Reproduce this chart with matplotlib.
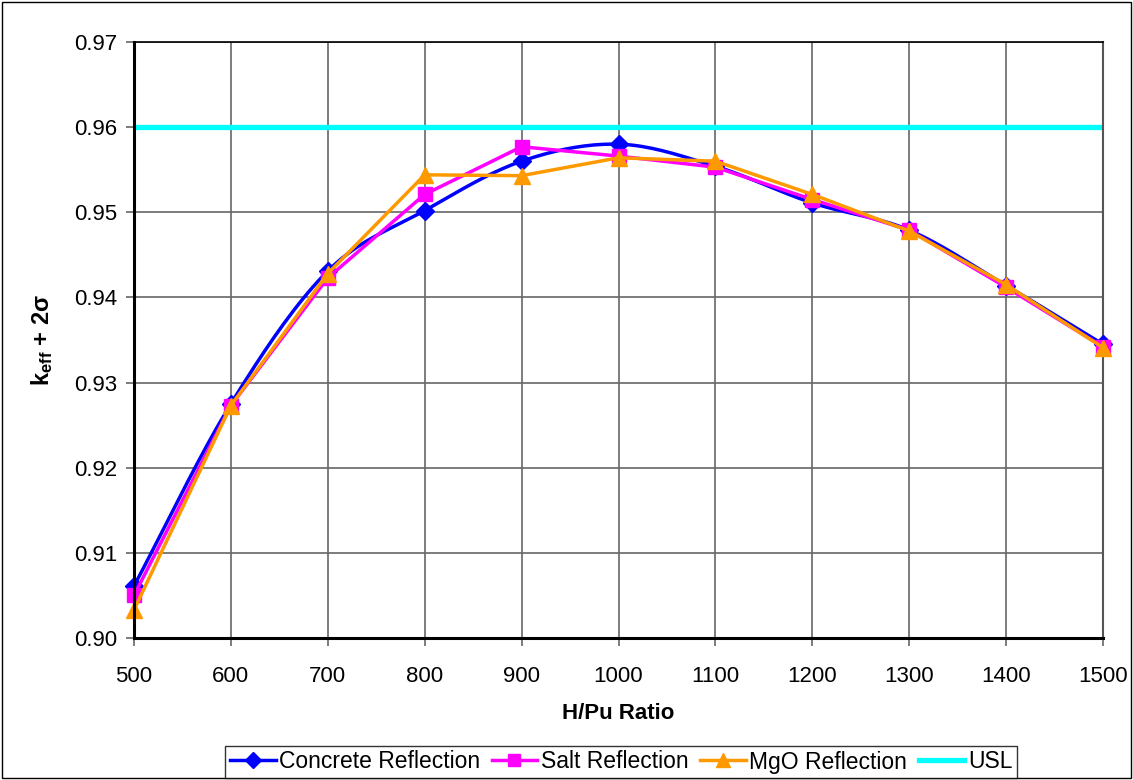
import numpy as np
import matplotlib
matplotlib.use("Agg")
import matplotlib.pyplot as plt
from matplotlib.lines import Line2D
from matplotlib.patches import Rectangle

plt.rcParams["font.family"] = ["Liberation Sans", "DejaVu Sans"]
plt.rcParams["mathtext.fontset"] = "custom"
plt.rcParams["mathtext.rm"] = "Liberation Sans"
plt.rcParams["mathtext.bf"] = "Liberation Sans:bold"

h_pu = [500, 600, 700, 800, 900, 1000, 1100, 1200, 1300, 1400, 1500]
concrete = [0.9061, 0.9275, 0.9431, 0.9502, 0.9560, 0.9580, 0.9554, 0.9511, 0.9479, 0.9414, 0.9345]
salt = [0.9050, 0.9273, 0.9423, 0.9521, 0.9577, 0.9566, 0.9553, 0.9515, 0.9479, 0.9412, 0.9342]
mgo = [0.9033, 0.9273, 0.9428, 0.9544, 0.9543, 0.9564, 0.9560, 0.9521, 0.9478, 0.9415, 0.9341]
usl = 0.96


def smooth(x, y, n=20):
    # Excel-style smoothed line (Catmull-Rom through the points)
    x = np.asarray(x, float)
    y = np.asarray(y, float)
    px = np.concatenate([[2 * x[0] - x[1]], x, [2 * x[-1] - x[-2]]])
    py = np.concatenate([[2 * y[0] - y[1]], y, [2 * y[-1] - y[-2]]])
    xs, ys = [], []
    t = np.linspace(0, 1, n, endpoint=False)
    for i in range(1, len(px) - 2):
        for p, out in ((px, xs), (py, ys)):
            p0, p1, p2, p3 = p[i - 1], p[i], p[i + 1], p[i + 2]
            out.extend(0.5 * (2 * p1 + (-p0 + p2) * t + (2 * p0 - 5 * p1 + 4 * p2 - p3) * t ** 2
                              + (-p0 + 3 * p1 - 3 * p2 + p3) * t ** 3))
    xs.append(x[-1])
    ys.append(y[-1])
    return xs, ys


fig = plt.figure(figsize=(11.33, 7.8), dpi=100)
ax = fig.add_axes([134 / 1133, 1 - 638 / 780, (1103 - 134) / 1133, (638 - 42) / 780])

lw = 2.5
sx, sy = smooth(h_pu, concrete)
ax.plot(sx, sy, color="#0000FF", lw=lw, zorder=3, clip_on=False)
ax.plot(h_pu, concrete, ls="none", marker="D", ms=9, color="#0000FF", zorder=3, clip_on=False)
ax.plot(h_pu, salt, color="#FF00FF", lw=lw, marker="s", ms=10, zorder=4, clip_on=False)
ax.plot(h_pu, mgo, color="#FF9900", lw=lw, marker="^", ms=11, zorder=5, clip_on=False)
ax.axhline(usl, color="#00FFFF", lw=3.8, zorder=2)

ax.set_xlim(500, 1500)
ax.set_ylim(0.90, 0.97)
ax.set_xticks(h_pu)
ax.set_yticks(np.arange(0.90, 0.9701, 0.01))
ax.yaxis.set_major_formatter(matplotlib.ticker.FormatStrFormatter("%.2f"))
ax.grid(True, color="#666666", lw=1.2)
ax.set_axisbelow(True)
ax.tick_params(labelsize=16, direction="out", length=6, width=1.2, color="#666666")
ax.tick_params(axis="x", pad=14)
ax.tick_params(axis="y", pad=6)
ax.spines["right"].set_color("#555555")
ax.spines["right"].set_linewidth(1.5)
ax.spines["top"].set_linewidth(1.2)
for s in ["left", "bottom"]:
    ax.spines[s].set_linewidth(2.2)
    ax.spines[s].set_zorder(6)

ax.set_xlabel("H/Pu Ratio", fontsize=16, fontweight="bold", labelpad=12)
ax.set_ylabel(r"$\mathbf{k_{eff}}$ + 2σ", fontsize=17, fontweight="bold", labelpad=14)

handles = [
    Line2D([], [], color="#0000FF", lw=lw, marker="D", ms=8),
    Line2D([], [], color="#FF00FF", lw=lw, marker="s", ms=9),
    Line2D([], [], color="#FF9900", lw=lw, marker="^", ms=10),
    Line2D([], [], color="#00FFFF", lw=3.8),
]
leg = fig.legend(handles, ["Concrete Reflection", "Salt Reflection", "MgO Reflection", "USL"],
                 loc="center", bbox_to_anchor=(621 / 1133, 1 - 762 / 780), ncol=4,
                 fontsize=16.5, frameon=True, fancybox=False, edgecolor="black",
                 handlelength=2.0, handletextpad=0.15, columnspacing=0.5, borderpad=0.2,
                 borderaxespad=0)
leg.get_frame().set_linewidth(1)

fig.patches.append(Rectangle((0.002, 0.002), 0.996, 0.996, transform=fig.transFigure,
                             fill=False, edgecolor="black", lw=1))

fig.savefig("out.png", dpi=100)
